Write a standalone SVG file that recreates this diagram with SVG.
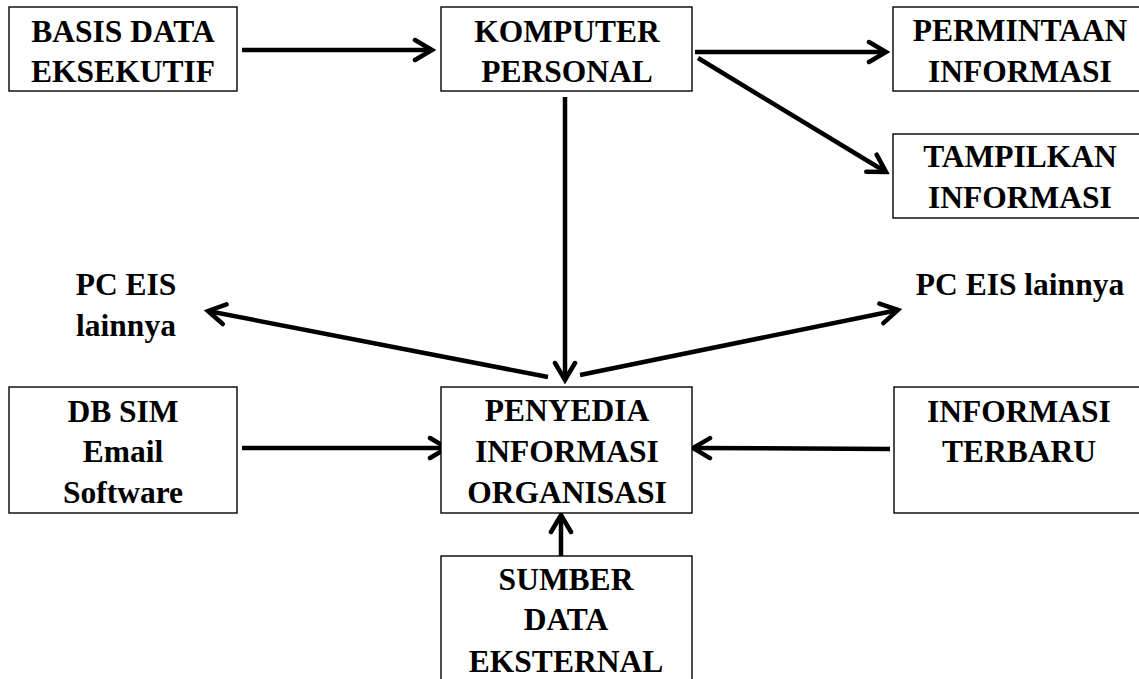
<svg xmlns="http://www.w3.org/2000/svg" width="1139" height="679" viewBox="0 0 1139 679">
  <style>
    .box { fill: #fff; stroke: #000; stroke-width: 1.4; }
    .lbl { font-family: "Liberation Serif", "Times New Roman", serif; font-weight: bold; font-size: 31.5px; fill: #000; text-anchor: middle; }
    .edge { fill: none; stroke: #000; stroke-width: 4.5; marker-end: url(#arr); }
  </style>
  <defs>
    <marker id="arr" markerUnits="userSpaceOnUse" viewBox="-24 -14 28 28" refX="0" refY="0" markerWidth="28" markerHeight="28" orient="auto">
      <path d="M-17,-10 L0,0 L-17,10" fill="none" stroke="#000" stroke-width="4.5" stroke-linecap="round" stroke-linejoin="miter"/>
    </marker>
  </defs>
  <rect width="1139" height="679" fill="#fff"/>

  <g id="connectors">
    <line class="edge" x1="242" y1="50" x2="432" y2="50"/>
    <line class="edge" x1="695" y1="52" x2="886" y2="52"/>
    <line class="edge" x1="698" y1="58" x2="886" y2="172"/>
    <line class="edge" x1="565" y1="97" x2="565" y2="380"/>
    <line class="edge" x1="548" y1="377" x2="208" y2="311"/>
    <line class="edge" x1="580" y1="375" x2="898" y2="310"/>
    <line class="edge" x1="242" y1="448" x2="447" y2="448"/>
    <line class="edge" x1="890" y1="449" x2="693" y2="448"/>
    <line class="edge" x1="561" y1="556" x2="561" y2="515"/>
  </g>

  <g id="basis-data">
    <rect class="box" x="9" y="7" width="228" height="84"/>
    <text class="lbl" x="123" y="42">BASIS DATA</text>
    <text class="lbl" x="123" y="82">EKSEKUTIF</text>
  </g>

  <g id="komputer">
    <rect class="box" x="441" y="7" width="251" height="84"/>
    <text class="lbl" x="567" y="42">KOMPUTER</text>
    <text class="lbl" x="567" y="82">PERSONAL</text>
  </g>

  <g id="permintaan">
    <rect class="box" x="893" y="7" width="260" height="84"/>
    <text class="lbl" x="1020" y="41">PERMINTAAN</text>
    <text class="lbl" x="1020" y="82">INFORMASI</text>
  </g>

  <g id="tampilkan">
    <rect class="box" x="893" y="134" width="260" height="84"/>
    <text class="lbl" x="1020" y="167">TAMPILKAN</text>
    <text class="lbl" x="1020" y="208">INFORMASI</text>
  </g>

  <g id="pc-eis-kiri">
    <text class="lbl" x="126" y="295">PC EIS</text>
    <text class="lbl" x="126" y="336">lainnya</text>
  </g>

  <g id="pc-eis-kanan">
    <text class="lbl" x="1020" y="295">PC EIS lainnya</text>
  </g>

  <g id="db-sim">
    <rect class="box" x="9" y="387" width="228" height="126"/>
    <text class="lbl" x="123" y="422">DB SIM</text>
    <text class="lbl" x="123" y="462">Email</text>
    <text class="lbl" x="123" y="503">Software</text>
  </g>

  <g id="penyedia">
    <rect class="box" x="441" y="387" width="251" height="126"/>
    <text class="lbl" x="567" y="421">PENYEDIA</text>
    <text class="lbl" x="567" y="462">INFORMASI</text>
    <text class="lbl" x="567" y="503">ORGANISASI</text>
  </g>

  <g id="informasi-terbaru">
    <rect class="box" x="894" y="387" width="260" height="126"/>
    <text class="lbl" x="1019" y="422">INFORMASI</text>
    <text class="lbl" x="1019" y="462">TERBARU</text>
  </g>

  <g id="sumber-data">
    <rect class="box" x="441" y="556" width="251" height="140"/>
    <text class="lbl" x="566" y="590">SUMBER</text>
    <text class="lbl" x="566" y="630">DATA</text>
    <text class="lbl" x="566" y="672">EKSTERNAL</text>
  </g>
</svg>
